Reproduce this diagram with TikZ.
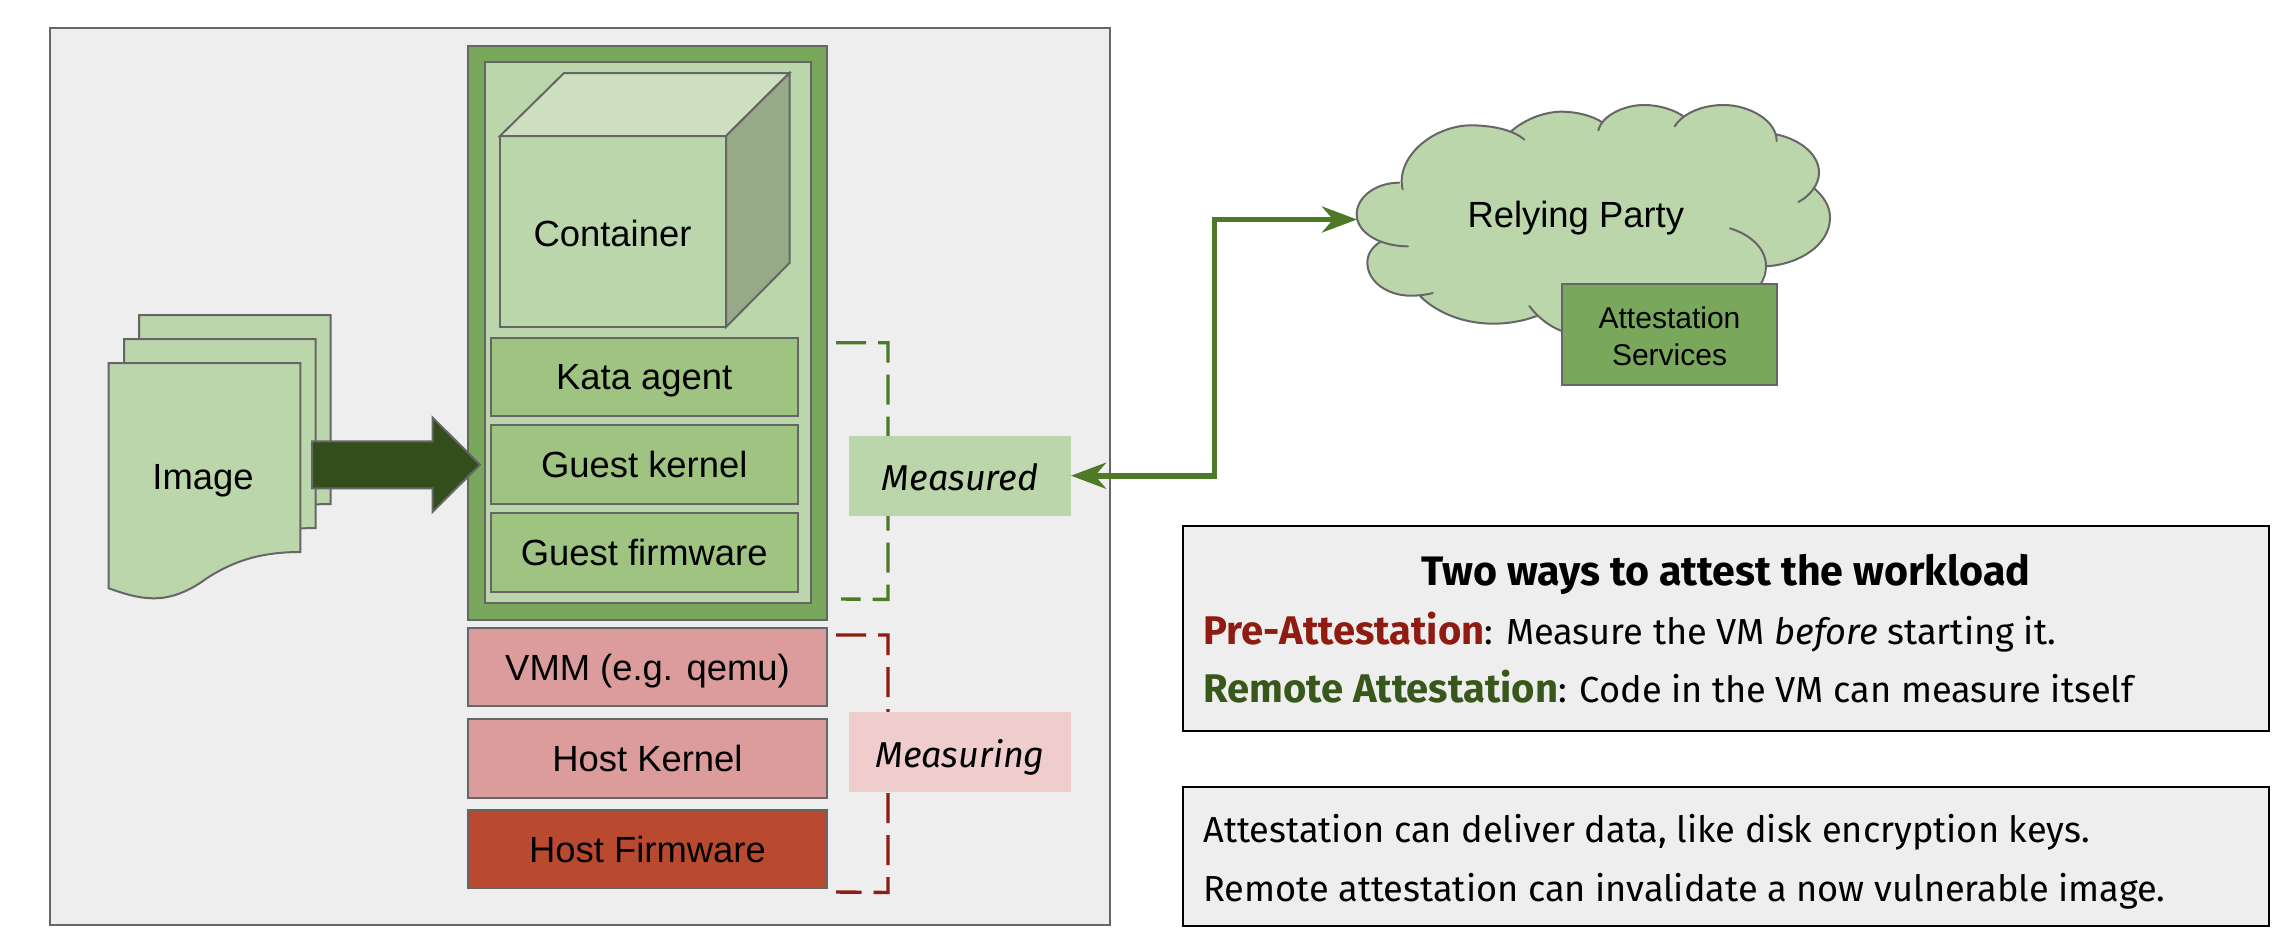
\documentclass[tikz,border=0pt]{standalone}
\usepackage{fontspec}
\setmainfont{Liberation Sans}
\newfontfamily\notefont{Fira Sans}
\usetikzlibrary{arrows.meta}
\definecolor{panelgray}{HTML}{EEEEEE}
\definecolor{edgegray}{HTML}{666666}
\definecolor{lightgreen}{HTML}{BBD6AA}
\definecolor{midgreen}{HTML}{9FC381}
\definecolor{strong}{HTML}{79A75C}
\definecolor{darkgreen}{HTML}{38571A}
\definecolor{arrowgreen}{HTML}{344E1B}
\definecolor{linegreen}{HTML}{4E7A28}
\definecolor{cubetop}{HTML}{CDDFBF}
\definecolor{cubeside}{HTML}{96AA88}
\definecolor{pinkred}{HTML}{DD9C9C}
\definecolor{paleRed}{HTML}{EFCDCD}
\definecolor{brick}{HTML}{BA4A2F}
\definecolor{darkred}{HTML}{8E1C12}
\newcommand{\strongword}[2]{{\color{#1}\bfseries\fontsize{20}{20}\selectfont #2}}
\tikzset{
  shape edge/.style={draw=edgegray,line width=1pt},
  rectbox/.style={shape edge,rectangle,inner sep=0pt,outer sep=0pt,font=\fontsize{18.2}{18.2}\selectfont,text height=13pt,text depth=0pt},
  tag/.style={rectangle,inner sep=0pt,outer sep=0pt,minimum width=111pt,minimum height=40pt,font=\notefont\itshape\fontsize{18}{18}\selectfont,text height=15pt,text depth=0pt},
  bracket/.style={line width=1.7pt,dash pattern=on 15pt off 6pt},
  notebox/.style={draw=black,line width=1pt,fill=panelgray,rectangle,inner sep=0pt,outer sep=0pt,minimum width=543pt},
  noteline/.style={anchor=base west,inner sep=0pt,font=\notefont\fontsize{18.1}{18.1}\selectfont},
  link/.style={draw=linegreen,line width=2.8pt,{Stealth[length=17.5pt,width=13pt,inset=5.5pt]}-{Stealth[length=17.5pt,width=13pt,inset=5.5pt]}},
  sheet/.style={shape edge,fill=lightgreen},
}
\begin{document}
\begin{tikzpicture}[x=.5pt,y=-.5pt]
\useasboundingbox (0,0) rectangle (2292,942);
\node[shape edge,fill=panelgray,rectangle,inner sep=0pt,minimum width=530pt,minimum height=448.5pt] (panel) at (580,476.5) {};
% image stack
\foreach \dx/\dy in {30.3/-48,15.3/-24,0/0}{
  \draw[sheet,shift={(\dx*.5pt,\dy*-.5pt)}] (108.7,363) -- (300.3,363) -- (300.3,552)
    .. controls (256.7,552) and (230,563.3) .. (206.7,578.3)
    .. controls (186.7,593.3) and (168.3,598.3) .. (155,598.3)
    .. controls (136.7,598.3) and (123.3,593.3) .. (108.7,588.3) -- cycle;
}
\node[font=\fontsize{18.2}{18.2}\selectfont] (image) at (203,481) {Image};
% VM stack
\node[rectbox,fill=strong,minimum width=179.25pt,minimum height=287pt] (vm) at (647.5,333) {};
\node[rectbox,fill=lightgreen,minimum width=163pt,minimum height=270.5pt] (inner) at (648,332.5) {};
\draw[shape edge,fill=lightgreen] (500,136) rectangle (726,327);
\draw[shape edge,fill=cubetop] (500,136) -- (564,73) -- (789.5,73) -- (726,136) -- cycle;
\draw[shape edge,fill=cubeside] (726,136) -- (789.5,73) -- (789.5,263) -- (726,327) -- cycle;
\node[font=\fontsize{18.2}{18.2}\selectfont] (container) at (612.5,233) {Container};
\node[rectbox,fill=midgreen,minimum width=153.75pt,minimum height=39.25pt] (kata) at (644.25,376.75) {Kata agent};
\node[rectbox,fill=midgreen,minimum width=153.75pt,minimum height=39.25pt] (kernel) at (644.25,464.5) {Guest kernel};
\node[rectbox,fill=midgreen,minimum width=153.75pt,minimum height=39.25pt] (firmware) at (644.25,552.25) {Guest firmware};
\node[rectbox,fill=pinkred,minimum width=179.25pt,minimum height=39pt] (vmm) at (647.5,667) {VMM (e.g. qemu)};
\node[rectbox,fill=pinkred,minimum width=179.25pt,minimum height=39.5pt] (hostk) at (647.5,758.5) {Host Kernel};
\node[rectbox,fill=brick,minimum width=179.25pt,minimum height=39pt] (hostf) at (647.5,849) {Host Firmware};
% block arrow
\draw[shape edge,fill=arrowgreen] (312,441.3) -- (432.7,441.3) -- (432.7,417.7) -- (480,464.7) -- (432.7,511.7) -- (432.7,488.3) -- (312,488.3) -- cycle;
% brackets
\coordinate (ga) at (836,342.7); \coordinate (gb) at (888,342.7);
\coordinate (gc) at (888,599.4); \coordinate (gd) at (841,599);
\draw[bracket,linegreen] (ga) -- (gb) -- (gc) -- (gd);
\coordinate (ra) at (836,635); \coordinate (rb) at (888,635);
\coordinate (rc) at (888,892.5); \coordinate (rd) at (836,892);
\draw[bracket,darkred] (ra) -- (rb) -- (rc) -- (rd);
\node[tag,fill=lightgreen] (measured) at (960,475.7) {Measured};
\node[tag,fill=paleRed] (measuring) at (960,752) {Measuring};
% cloud
\begin{scope}[shift={(670pt,-45.5pt)},x=.16667pt,y=-.16667pt]
\fill[lightgreen] (188,295) .. controls (165,200) and (280,100) .. (400,103) .. controls (480,105) and (530,125) .. (553,146)
 -- (512,122) .. controls (560,80) and (620,62) .. (665,62) .. controls (710,62) and (760,75) .. (788,95)
 -- (775,118) .. controls (785,75) and (850,42) .. (912,42) .. controls (960,42) and (1005,58) .. (1030,76)
 -- (1004,106) .. controls (1030,65) and (1090,42) .. (1150,42) .. controls (1230,42) and (1310,90) .. (1310,150)
 -- (1308,130) .. controls (1380,145) and (1437,190) .. (1437,245) .. controls (1437,280) and (1410,315) .. (1375,333)
 -- (1420,290) .. controls (1450,315) and (1470,345) .. (1470,380) .. controls (1470,460) and (1380,520) .. (1278,526)
 -- (1258,585) -- (665,720)
 .. controls (625,705) and (590,675) .. (568,645)
 -- (590,675) .. controls (550,690) and (505,698) .. (460,698) .. controls (370,698) and (290,665) .. (240,615)
 -- (278,606) .. controls (255,612) and (235,614) .. (212,614) .. controls (140,614) and (82,570) .. (82,515) .. controls (82,490) and (95,470) .. (120,453)
 -- (204,466) .. controls (120,466) and (50,425) .. (50,370) .. controls (50,320) and (105,275) .. (178,275) -- cycle;
\draw[shape edge,line cap=round] (188,295) .. controls (165,200) and (280,100) .. (400,103) .. controls (480,105) and (530,125) .. (553,146)
 (512,122) .. controls (560,80) and (620,62) .. (665,62) .. controls (710,62) and (760,75) .. (788,95)
 (775,118) .. controls (785,75) and (850,42) .. (912,42) .. controls (960,42) and (1005,58) .. (1030,76)
 (1004,106) .. controls (1030,65) and (1090,42) .. (1150,42) .. controls (1230,42) and (1310,90) .. (1310,150)
 (1308,130) .. controls (1380,145) and (1437,190) .. (1437,245) .. controls (1437,280) and (1410,315) .. (1375,333)
 (1420,290) .. controls (1450,315) and (1470,345) .. (1470,380) .. controls (1470,460) and (1380,520) .. (1278,526)
 (1170,412) .. controls (1235,432) and (1278,475) .. (1278,525) .. controls (1278,545) and (1272,565) .. (1258,585)
 (568,645) .. controls (590,675) and (625,705) .. (665,720)
 (590,675) .. controls (550,690) and (505,698) .. (460,698) .. controls (370,698) and (290,665) .. (240,615)
 (278,606) .. controls (255,612) and (235,614) .. (212,614) .. controls (140,614) and (82,570) .. (82,515) .. controls (82,490) and (95,470) .. (120,453)
 (204,466) .. controls (120,466) and (50,425) .. (50,370) .. controls (50,320) and (105,275) .. (178,275);
\end{scope}
\coordinate (cloudwest) at (1357,219.5);
\node[font=\fontsize{18.2}{18.2}\selectfont] (rp) at (1575.8,218.5) {Relying Party};
\node[shape edge,fill=strong,rectangle,inner sep=0pt,minimum width=107.8pt,minimum height=50.5pt] (att) at (1669.5,334.5) {};
\node[align=center,inner sep=0pt,font=\fontsize{15}{18.3}\selectfont] (attlabel) at (1669.5,336) {Attestation\\Services};
% connector
\coordinate (bend) at (1214.5,350);
\draw[link] (measured.east) -| (bend) |- (cloudwest);
% notes
\node[notebox,minimum height=102.25pt] (noteA) at (1726.25,628.25) {};
\node[notebox,minimum height=69.5pt] (noteB) at (1726.25,856.5) {};
\node[anchor=base,inner sep=0pt,font=\notefont\bfseries\fontsize{20.6}{20.6}\selectfont] (title) at (1726,585.6) {Two ways to attest the workload};
\node[noteline] (pre) at (1203,644.5) {\strongword{darkred}{Pre-Attestation}: Measure the VM \textit{before} starting it.};
\node[noteline] (remote) at (1203,702.7) {\strongword{darkgreen}{Remote Attestation}: Code in the VM can measure itself};
\node[noteline] (deliver) at (1203,842.6) {Attestation can deliver data, like disk encryption keys.};
\node[noteline] (invalid) at (1203,901) {Remote attestation can invalidate a now vulnerable image.};
\end{tikzpicture}
\end{document}
